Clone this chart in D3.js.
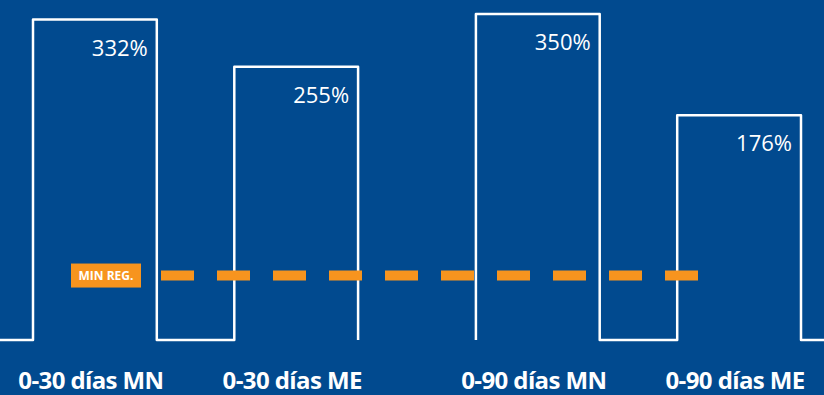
<!DOCTYPE html>
<html lang="es">
<head>
<meta charset="UTF-8">
<title>Ratio de liquidez</title>
<script src="https://cdn.jsdelivr.net/npm/d3@7/dist/d3.min.js"></script>
<style>
    html, body { margin: 0; padding: 0; background: #014a8f; }
    svg { display: block; }
</style>
</head>
<body>
<div id="chart"></div>
<script>
// datos
const groups = ['0-30 días', '0-90 días'];
const currencies = ['MN', 'ME'];
const categories = ['0-30 días MN', '0-30 días ME', '0-90 días MN', '0-90 días ME'];
const values = [332, 255, 350, 176];
const minRegLabel = 'MIN REG.';
const minRegLevel = -85;

const width = 824;
const height = 395;
const baseY = 340;
const topY = 14;

const svg = d3.select('#chart').append('svg')
    .attr('width', width)
    .attr('height', height)
    .style('background', '#014a8f');

// escalas
const x0 = d3.scaleBand().domain(groups).range([33, 801]).paddingInner(0.266).paddingOuter(0);
const x1 = d3.scaleBand().domain(currencies).range([0, x0.bandwidth()]).paddingInner(0.385).paddingOuter(0);
const y = d3.scaleLinear().domain([-190, 341]).range([baseY, topY]).clamp(true);

const rows = categories.map((c, i) => ({
    cat: c,
    group: groups[Math.floor(i / 2)],
    cur: currencies[i % 2],
    value: values[i]
}));

// contorno de barras (un trazo por grupo)
groups.forEach((g, gi) => {
    const bars = rows.filter(d => d.group === g);
    const pts = [];
    if (gi === 0) pts.push([0, y(-190)]);
    bars.forEach(d => {
        const xl = x0(d.group) + x1(d.cur);
        const xr = xl + x1.bandwidth();
        pts.push([xl, y(-190)], [xl, y(d.value)], [xr, y(d.value)], [xr, y(-190)]);
    });
    if (gi === groups.length - 1) pts.push([width, y(-190)]);
    svg.append('path')
        .attr('d', d3.line()(pts))
        .attr('fill', 'none')
        .attr('stroke', '#ffffff')
        .attr('stroke-width', 2.5)
        .attr('stroke-linejoin', 'round');
});

// etiquetas de valor
svg.append('g').selectAll('text')
    .data(rows).enter()
    .append('text')
    .attr('x', d => x0(d.group) + x1(d.cur) + x1.bandwidth() - 9)
    .attr('y', d => y(d.value) + 36)
    .attr('text-anchor', 'end')
    .attr('fill', '#ffffff')
    .attr('font-family', 'Open Sans, sans-serif')
    .attr('font-weight', 400)
    .attr('font-size', 22)
    .text(d => d.value + '%');

// linea minimo regulatorio
const ly = y(minRegLevel);
svg.append('line')
    .attr('x1', 161).attr('x2', 699)
    .attr('y1', ly).attr('y2', ly)
    .attr('stroke', '#f7941e')
    .attr('stroke-width', 10)
    .attr('stroke-dasharray', '33 23');

svg.append('rect')
    .attr('x', 71).attr('y', ly - 12)
    .attr('width', 70).attr('height', 24)
    .attr('fill', '#f7941e');

svg.append('text')
    .attr('x', 106).attr('y', ly + 4.5)
    .attr('text-anchor', 'middle')
    .attr('fill', '#ffffff')
    .attr('font-family', 'Open Sans, sans-serif')
    .attr('font-weight', 700)
    .attr('font-size', 12)
    .text(minRegLabel);

// etiquetas de categoria
svg.append('g').selectAll('text')
    .data(rows).enter()
    .append('text')
    .attr('x', d => x0(d.group) + x1(d.cur) + x1.bandwidth() / 2 - 4)
    .attr('y', 389)
    .attr('text-anchor', 'middle')
    .attr('fill', '#ffffff')
    .attr('font-family', 'Open Sans, sans-serif')
    .attr('font-weight', 700)
    .attr('font-size', 24)
    .attr('letter-spacing', -0.6)
    .text(d => d.cat);
</script>
</body>
</html>
